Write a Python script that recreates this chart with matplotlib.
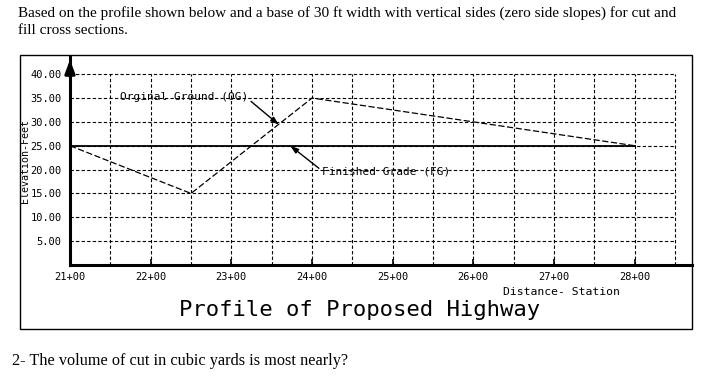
import matplotlib.pyplot as plt
from matplotlib.patches import Rectangle

# profile data (station in 100 ft, elevation in ft)
og_station = [21, 22.5, 24, 28]
og_elev = [25, 15, 35, 25]
fg_station = [21, 28]
fg_elev = [25, 25]

station_ticks = [21, 22, 23, 24, 25, 26, 27, 28]
station_labels = ["21+00", "22+00", "23+00", "24+00", "25+00", "26+00", "27+00", "28+00"]
elev_ticks = [5, 10, 15, 20, 25, 30, 35, 40]
grid_x = [21.5, 22, 22.5, 23, 23.5, 24, 24.5, 25, 25.5, 26, 26.5, 27, 27.5, 28, 28.5]

MONO = "DejaVu Sans Mono"
SERIF = "Liberation Serif"

W, H = 704, 377
fig = plt.figure(figsize=(W / 100, H / 100), dpi=100)

# outer frame around the drawing
fig.patches.append(Rectangle((20 / W, 1 - 329 / H), (692 - 20) / W, (329 - 55) / H,
                             transform=fig.transFigure, fill=False, ec="black", lw=1.0))

ax = fig.add_axes([70 / W, 1 - 265 / H, (692 - 70) / W, (265 - 57) / H])
ax.set_xlim(21, 28.71)
ax.set_ylim(0, 43.6)
for s in ["top", "right"]:
    ax.spines[s].set_visible(False)
ax.spines["left"].set_linewidth(2.2)
ax.spines["bottom"].set_linewidth(2.2)

# dashed grid
ax.hlines(elev_ticks, 21, 28.5, colors="black", linestyles=(0, (3, 2)), lw=0.8)
ax.vlines(grid_x, 0, 40, colors="black", linestyles=(0, (3, 2)), lw=0.8)

# arrow on top of elevation axis
ax.annotate("", xy=(21, 43.6), xytext=(21, 39), xycoords="data",
            arrowprops=dict(arrowstyle="-|>,head_length=0.8,head_width=0.3", color="black", lw=2.2),
            annotation_clip=False)

ax.plot(fg_station, fg_elev, color="black", lw=1.3)
ax.plot(og_station, og_elev, color="black", lw=0.9, ls=(0, (5, 2)))

ax.set_xticks(station_ticks)
ax.set_xticklabels(station_labels, family=MONO, fontsize=7.5)
ax.set_yticks(elev_ticks)
ax.set_yticklabels([f"{v:.2f}" for v in elev_ticks], family=MONO, fontsize=7.5)
ax.tick_params(axis="x", direction="in", length=4, width=1.2, pad=5)
ax.tick_params(axis="y", length=0, pad=6)

ax.annotate("Orginal Ground (OG)", xy=(23.59, 29.4), xytext=(21.62, 35.2),
            family=MONO, fontsize=8, va="center",
            arrowprops=dict(arrowstyle="-|>,head_length=0.6,head_width=0.2", color="black", lw=1.0,
                            shrinkA=0, shrinkB=0, relpos=(1, 0.3)))
ax.annotate("Finished Grade (FG)", xy=(23.73, 25), xytext=(24.12, 19.6),
            family=MONO, fontsize=8, va="center",
            arrowprops=dict(arrowstyle="-|>,head_length=0.6,head_width=0.2", color="black", lw=1.0,
                            shrinkA=0, shrinkB=0, relpos=(0, 0.6)))

fig.text(25 / W, 1 - 161 / H, "Elevation-Feet", rotation=90, family=MONO, fontsize=7.2,
         ha="center", va="center")
fig.text(561 / W, 1 - 292 / H, "Distance- Station", family=MONO, fontsize=8.2,
         ha="center", va="center")
fig.text(360 / W, 1 - 310 / H, "Profile of Proposed Highway", family=MONO, fontsize=16,
         ha="center", va="center")

fig.text(18 / W, 1 - 13 / H,
         "Based on the profile shown below and a base of 30 ft width with vertical sides (zero side slopes) for cut and",
         family=SERIF, fontsize=11, ha="left", va="center")
fig.text(18 / W, 1 - 30 / H, "fill cross sections.", family=SERIF, fontsize=11, ha="left", va="center")
fig.text(12 / W, 1 - 361 / H, "2- The volume of cut in cubic yards is most nearly?",
         family=SERIF, fontsize=11.7, ha="left", va="center")

fig.savefig("out.png", dpi=100)
